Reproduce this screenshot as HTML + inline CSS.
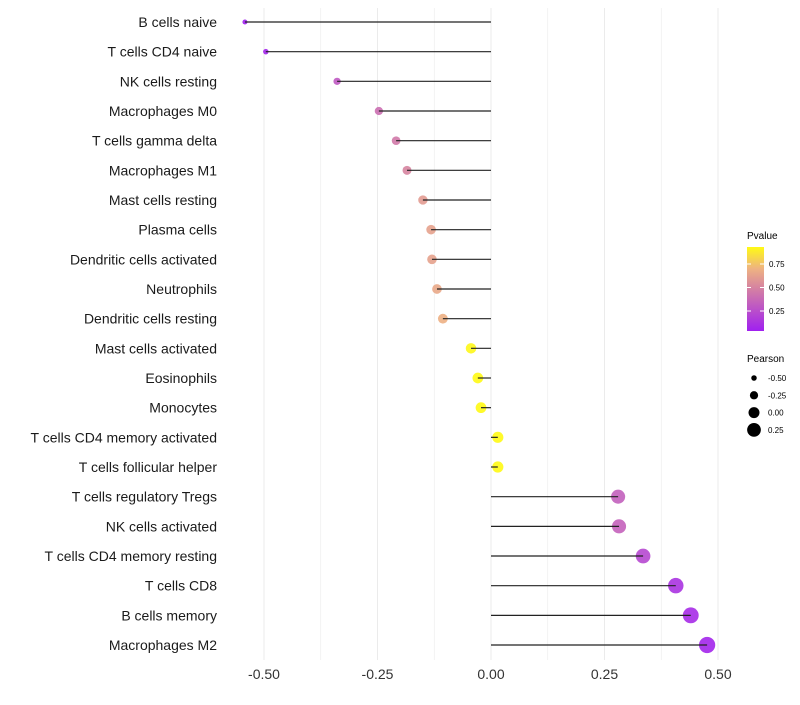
<!DOCTYPE html>
<html><head><meta charset="utf-8"><style>
body{margin:0;background:#fff;font-family:"Liberation Sans",sans-serif}
</style></head><body>
<svg id="chart" width="800" height="700" xmlns="http://www.w3.org/2000/svg"></svg>
<script>
const categories=["B cells naive","T cells CD4 naive","NK cells resting","Macrophages M0","T cells gamma delta","Macrophages M1","Mast cells resting","Plasma cells","Dendritic cells activated","Neutrophils","Dendritic cells resting","Mast cells activated","Eosinophils","Monocytes","T cells CD4 memory activated","T cells follicular helper","T cells regulatory  Tregs ","NK cells activated","T cells CD4 memory resting","T cells CD8","B cells memory","Macrophages M2"];
const pearson=[-0.542,-0.496,-0.339,-0.247,-0.209,-0.185,-0.150,-0.132,-0.130,-0.119,-0.106,-0.044,-0.029,-0.022,0.015,0.015,0.280,0.282,0.335,0.407,0.440,0.476];
const pvalues=[0.03,0.06,0.30,0.40,0.45,0.50,0.60,0.63,0.63,0.66,0.69,0.92,0.94,0.95,0.97,0.97,0.33,0.34,0.22,0.12,0.08,0.06];
const xTicks=[-0.5,-0.25,0,0.25,0.5];
const xTickLabels=["-0.50","-0.25","0.00","0.25","0.50"];
const pTicks=[0.25,0.5,0.75];
const sizeTicks=[-0.5,-0.25,0,0.25];
const NS="http://www.w3.org/2000/svg";
const svg=document.getElementById('chart');
const x=v=>491+v*454;
const y=i=>22+i*29.667;
const r=v=>Math.max(1.8,5.5+5.5*v);
const stops=[[0.03,[160,32,240]],[0.5,[214,132,160]],[0.7,[238,178,130]],[0.93,[255,250,20]]];
function col(p){p=Math.max(0.03,Math.min(0.93,p));for(let k=0;k<stops.length-1;k++){const a=stops[k],b=stops[k+1];if(p<=b[0]){const t=(p-a[0])/(b[0]-a[0]);const c=a[1].map((v,j)=>Math.round(v+(b[1][j]-v)*t));return `rgb(${c})`;}}return 'rgb(255,250,20)';}
function el(t,a,txt){const e=document.createElementNS(NS,t);for(const k in a)e.setAttribute(k,a[k]);if(txt!==undefined)e.textContent=txt;svg.appendChild(e);return e;}
for(let v=-0.5;v<=0.5001;v+=0.125){const g=el('line',{x1:x(v),x2:x(v),y1:8,y2:660,stroke:'#ebebeb','stroke-width':Math.abs(v*4-Math.round(v*4))<1e-6?1:0.6});
}
categories.forEach((c,i)=>{
 const d=el('circle',{cx:x(pearson[i]),cy:y(i),r:r(pearson[i]),fill:col(pvalues[i]),'fill-opacity':0.9});
 
 const g=el('line',{x1:x(0),x2:x(pearson[i]),y1:y(i),y2:y(i),stroke:'#222','stroke-width':1.2});
 
 const t=el('text',{x:217,y:y(i)+5,'text-anchor':'end','font-size':14,fill:'#1a1a1a'},c);
 
});
xTicks.forEach((v,i)=>{const t=el('text',{x:x(v),y:679,'text-anchor':'middle','font-size':14,fill:'#333'},xTickLabels[i]);
});
let t=el('text',{x:747,y:239,'font-size':10,fill:'#000'},'Pvalue');
const defs=el('defs',{});const lg=document.createElementNS(NS,'linearGradient');lg.setAttribute('id','pg');lg.setAttribute('x1','0');lg.setAttribute('y1','1');lg.setAttribute('x2','0');lg.setAttribute('y2','0');
[[0,'rgb(160,32,240)'],[0.52,'rgb(214,132,160)'],[0.74,'rgb(238,178,130)'],[1,'rgb(255,250,20)']].forEach(s=>{const st=document.createElementNS(NS,'stop');st.setAttribute('offset',s[0]);st.setAttribute('stop-color',s[1]);lg.appendChild(st);});defs.appendChild(lg);
const bar=el('rect',{x:747,y:247,width:17,height:84,fill:'url(#pg)'});
pTicks.forEach(p=>{const yy=334.5-p*94;el('line',{x1:747,x2:751,y1:yy,y2:yy,stroke:'#fff'});el('line',{x1:760,x2:764,y1:yy,y2:yy,stroke:'#fff'});
const l=el('text',{x:769,y:yy+3,'font-size':8,fill:'#000'},p.toFixed(2));});
t=el('text',{x:747,y:362,'font-size':10,fill:'#000'},'Pearson');
sizeTicks.forEach((v,i)=>{const yy=378+i*17.3;const c=el('circle',{cx:754,cy:yy,r:r(v),fill:'#000'});
const l=el('text',{x:768,y:yy+3,'font-size':8,fill:'#000'},v.toFixed(2));});
</script>
</body></html>
